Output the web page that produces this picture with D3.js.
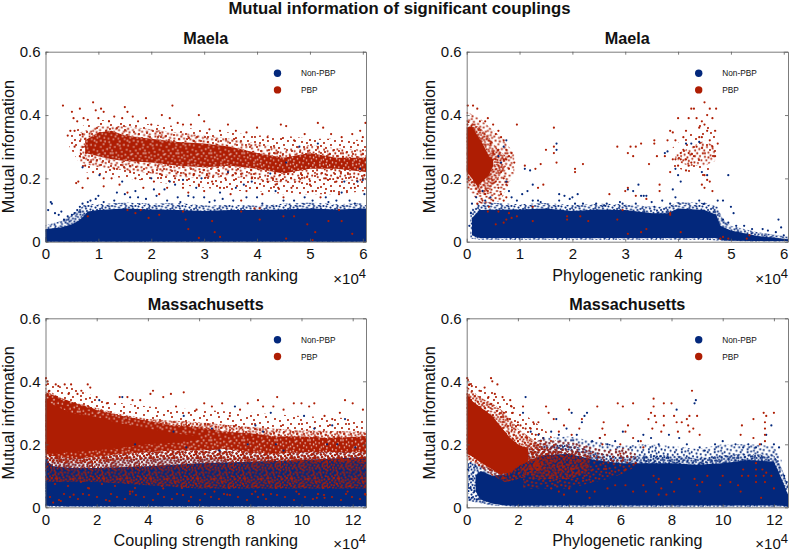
<!DOCTYPE html>
<html><head><meta charset="utf-8">
<script src="https://cdnjs.cloudflare.com/ajax/libs/d3/7.8.5/d3.min.js"></script>
<style>html,body{margin:0;background:#fff}svg{display:block}text{font-family:"Liberation Sans",Arial,sans-serif;fill:#111}</style>
</head><body><svg id="c" width="789" height="551"></svg>
<script>
// All x values are in units of 10^4; y is mutual information.
const yTicks=[0,0.2,0.4,0.6];
const xTicksMaela=[0,1,2,3,4,5,6];
const xTicksMass=[0,2,4,6,8,10,12];
const seriesNames=["Non-PBP","PBP"];

// Envelopes of the clouds too dense to read point by point: [x, lower, upper]
const maelaCouplingBlueCore=[[0,0,.04],[.3,0,.045],[.5,0,.055],[.62,0,.065],[.72,0,.08],[.8,0,.095],[1,0,.1],[1.5,0,.105],[2,0,.102],[2.5,0,.1],[3,0,.097],[3.5,0,.1],[4,0,.1],[4.5,0,.102],[5,0,.105],[5.5,0,.102],[6.06,0,.105]];
const maelaCouplingBlueFringe=[[0,0,.052],[.3,0,.065],[.5,0,.085],[.62,0,.1],[.72,0,.115],[.85,0,.118],[1,0,.118],[1.5,0,.124],[2,0,.12],[2.5,0,.122],[3,0,.114],[3.5,0,.116],[4,0,.114],[4.5,0,.12],[5,0,.124],[5.5,0,.118],[6.06,0,.122]];
const maelaCouplingRedCore=[[.75,.28,.32],[1,.27,.345],[1.25,.26,.35],[1.5,.255,.335],[2,.25,.325],[2.5,.24,.315],[3,.235,.31],[3.5,.24,.3],[4,.23,.28],[4.5,.215,.265],[5,.23,.28],[5.5,.23,.265],[6.06,.22,.265]];
const maelaCouplingRedShoulder=[[.65,.25,.345],[1,.235,.365],[1.5,.225,.365],[2,.215,.355],[2.5,.205,.345],[3,.2,.335],[3.5,.205,.325],[4,.195,.31],[4.5,.185,.295],[5,.195,.305],[5.5,.195,.295],[6.06,.19,.29]];
const maelaCouplingRedFringe=[[.45,.3,.34],[.75,.22,.37],[1,.21,.385],[1.5,.2,.38],[2,.19,.37],[2.5,.18,.365],[3,.17,.35],[3.5,.16,.345],[4,.16,.335],[4.5,.15,.335],[5,.15,.325],[5.5,.15,.325],[6.06,.16,.32]];
const maelaPhyloBlueCore=[[.1,.02,.075],[.25,.012,.1],[1,.012,.102],[1.5,.012,.105],[2,.012,.097],[2.5,.012,.102],[3,.012,.1],[3.5,.012,.09],[3.8,.012,.09],[4,.012,.105],[4.5,.012,.1],[4.72,.012,.085],[4.8,.006,.05],[5,.003,.035],[5.5,.002,.018],[6.08,.002,.008]];
const maelaPhyloBlueFringe=[[.07,.01,.1],[.25,.006,.125],[1,.006,.118],[1.5,.006,.122],[2,.006,.115],[2.5,.006,.12],[3,.006,.118],[3.5,.006,.11],[3.8,.006,.11],[4,.006,.125],[4.5,.006,.122],[4.75,.004,.11],[4.85,.003,.07],[5,.002,.05],[5.5,.001,.03],[6.08,.001,.016]];
const maelaPhyloRedCore=[[0,.22,.36],[.1,.2,.365],[.2,.175,.335],[.3,.19,.31],[.42,.21,.27],[.5,.24,.26]];
const maelaPhyloRedShoulder=[[0,.19,.385],[.25,.15,.36],[.42,.16,.33],[.6,.2,.29],[.75,.24,.27]];
const maelaPhyloRedFringe=[[0,.17,.41],[.25,.12,.39],[.45,.12,.36],[.65,.13,.33],[.9,.22,.28]];
const maelaPhyloRedCluster=[[3.95,.255,.275],[4.2,.24,.295],[4.5,.24,.32],[4.7,.255,.3]];
const maelaPhyloRedClusterHalo=[[3.85,.24,.29],[4.2,.22,.34],[4.5,.2,.39],[4.72,.24,.36]];
const massCouplingBlueCore=[[0,.005,.15],[.3,.004,.13],[1,.003,.125],[2,.003,.125],[4,.003,.13],[6,.003,.14],[8,.003,.145],[10,.003,.15],[12.52,.003,.16]];
const massCouplingBlueFringe=[[0,.002,.17],[.3,.002,.165],[2,.002,.17],[4,.002,.175],[6,.002,.19],[8,.002,.2],[10,.002,.205],[12.52,.002,.205]];
const massCouplingRedCore=[[0,.175,.345],[.3,.17,.325],[1,.175,.3],[2,.18,.285],[3,.19,.265],[4,.2,.25],[5,.205,.235],[6,.215,.225]];
const massCouplingRedDense=[[0,.165,.365],[1,.155,.335],[2,.16,.31],[3,.17,.29],[4,.175,.275],[5,.18,.26],[6,.18,.255],[7,.185,.24],[8,.175,.235],[9,.17,.225],[10,.175,.225],[11,.175,.22],[12.52,.175,.225]];
const massCouplingRedFringe=[[0,.15,.38],[.5,.14,.35],[1,.14,.335],[2,.14,.315],[3,.15,.295],[4,.155,.28],[6,.155,.27],[8,.145,.255],[10,.145,.245],[12.52,.145,.24]];
const massCouplingRedHalo=[[0,.15,.41],[.5,.14,.385],[1,.14,.38],[2,.14,.35],[3,.15,.33],[4,.15,.32],[6,.15,.31],[8,.14,.3],[10,.14,.29],[12.52,.14,.28]];
const massCouplingRedMix=[[0,.08,.16],[2,.08,.17],[4,.07,.18],[6,.06,.18],[8,.06,.18],[10,.06,.17],[12.52,.06,.17]];
const massCouplingRedLow=[[0,.02,.1],[12.52,.02,.1]];
const massPhyloBlueCore=[[.35,.05,.1],[.55,.025,.115],[1,.012,.1],[1.5,.006,.105],[2,.005,.135],[3,.006,.165],[4,.006,.17],[5,.006,.15],[6,.006,.14],[7,.006,.14],[8,.006,.14],[9,.006,.135],[10,.006,.14],[11,.006,.15],[12,.006,.145],[12.2,.006,.11],[12.4,.004,.07],[12.55,.002,.04]];
const massPhyloBlueFringe=[[.05,.02,.14],[.4,.015,.14],[1,.006,.12],[2,.002,.16],[3,.002,.195],[4,.002,.2],[5,.002,.175],[6,.002,.16],[7,.002,.165],[8,.002,.165],[9,.002,.155],[10,.002,.165],[11,.002,.17],[12,.002,.165],[12.3,.002,.125],[12.55,.001,.07]];
const massPhyloBlueHalo=[[2,.1,.18],[3,.12,.22],[4,.12,.225],[5,.12,.21],[6,.12,.195],[7,.12,.2],[8,.12,.195],[9,.12,.185],[10,.12,.2],[11,.12,.2],[12,.12,.195],[12.3,.1,.15]];
const massPhyloRedCore=[[0,.17,.36],[.25,.16,.335],[.5,.145,.32],[1,.12,.29],[1.3,.105,.26],[1.7,.11,.22],[2,.13,.2],[2.4,.145,.185]];
const massPhyloRedFringe=[[0,.15,.385],[.5,.13,.35],[1,.1,.33],[1.5,.08,.3],[2,.09,.25],[2.5,.11,.22],[3,.13,.19]];
const massPhyloRedHalo=[[0,.15,.415],[.5,.13,.38],[1,.1,.37],[1.5,.08,.345],[2,.09,.31],[2.5,.1,.28],[3,.12,.25],[3.5,.15,.21]];
const massPhyloRedMix=[[2.2,.06,.2],[3,.06,.215],[4,.06,.21],[5,.08,.19],[5.5,.09,.18],[6.2,.11,.19],[6.6,.13,.17]];
const massPhyloRedMixCore=[[2.5,.09,.18],[3,.09,.19],[4,.09,.18],[4.8,.11,.17]];

// Individually read points: [x, y]
const maelaCouplingBlue=[[.05,.1],[.1,.125],[.12,.12],[.18,.09],[.25,.085],[.3,.095],[.35,.07],[.42,.08],[.5,.085],[.55,.09],[.6,.1],[.65,.11],[.7,.235],[.7,.12],[.8,.125],[.85,.13],[.95,.135],[1,.145],[1.02,.21],[1.1,.125],[1.3,.13],[1.35,.155],[1.5,.15],[1.45,.19],[1.6,.14],[1.7,.16],[1.75,.14],[1.9,.135],[2,.2],[2.05,.165],[2.1,.145],[2.25,.165],[2.3,.13],[2.35,.19],[2.45,.18],[2.5,.14],[2.55,.125],[2.6,.195],[2.7,.145],[2.8,.14],[2.85,.17],[2.95,.2],[3,.14],[3.1,.125],[3.2,.13],[3.3,.155],[3.35,.135],[3.45,.22],[3.55,.13],[3.6,.17],[3.75,.18],[3.8,.14],[3.9,.19],[4,.14],[4.1,.12],[4.25,.215],[4.35,.16],[4.5,.13],[4.55,.25],[4.7,.13],[4.8,.3],[4.9,.14],[5.05,.13],[5.15,.31],[5.3,.14],[5.35,.125],[5.5,.13],[5.6,.155],[5.65,.19],[5.75,.13],[5.9,.19],[5.95,.23],[6,.195],[6.03,.15],[5.85,.12]];
const maelaCouplingRed=[[.33,.43],[.42,.335],[.47,.35],[.5,.41],[.53,.39],[.55,.35],[.6,.38],[.65,.42],[.7,.34],[.72,.39],[.8,.385],[.9,.44],[.95,.415],[1.05,.42],[1.1,.41],[1,.39],[1.2,.38],[1.3,.395],[1.5,.425],[1.55,.41],[1.45,.39],[1.65,.395],[1.75,.38],[1.9,.39],[2,.37],[2.2,.4],[2.4,.43],[2.35,.39],[2.5,.375],[2.6,.37],[2.75,.37],[2.9,.4],[3,.38],[3.1,.355],[3.3,.35],[3.45,.37],[3.6,.35],[3.8,.345],[4,.36],[4.2,.33],[4.45,.37],[4.55,.365],[4.7,.32],[4.9,.34],[5.15,.375],[5.25,.36],[5.4,.34],[5.6,.33],[5.8,.34],[5.95,.35],[6.05,.375],[6,.33],[.58,.185],[.62,.19],[.7,.17],[.75,.24],[.8,.2],[.9,.22],[.75,.3],[.65,.27],[.55,.3],[1.1,.2],[1.1,.175],[1.25,.2],[1.4,.18],[1.55,.155],[1.3,.23],[1.6,.22],[1.7,.2],[1.85,.17],[1.95,.22],[2.05,.19],[2.15,.15],[2.2,.21],[2.3,.17],[2.45,.2],[2.5,.22],[2.6,.17],[2.7,.155],[2.8,.21],[2.9,.18],[3,.16],[3.05,.21],[3.15,.19],[3.3,.17],[3.4,.2],[3.5,.15],[3.6,.215],[3.7,.13],[3.8,.16],[3.9,.2],[4,.17],[4.1,.15],[4.2,.19],[4.3,.2],[4.35,.18],[4.4,.17],[4.5,.14],[4.65,.17],[4.8,.19],[4.85,.21],[5,.18],[5.05,.16],[5.2,.14],[5.3,.2],[5.4,.16],[5.5,.19],[5.55,.15],[5.7,.16],[5.85,.17],[6,.2],[6.03,.21],[.8,.08],[1.7,.09],[1.95,.075],[2.15,.085],[2.6,.095],[2.65,.07],[2.7,.04],[2.9,.012],[3.15,.065],[3.2,.03],[3.3,.015],[3.7,.095],[4.05,.07],[4.5,.08],[4.55,.01],[4.7,.08],[4.95,.055],[5.05,.005],[5.1,.03],[5.35,.065],[5.55,.1],[5.6,.065],[5.8,.025],[1.55,.1],[1.8,.1],[3.95,.105],[4.05,.105]];
const maelaPhyloBlue=[[.05,.05],[.08,.09],[.1,.12],[.18,.14],[.3,.16],[.35,.13],[.45,.14],[.6,.27],[.65,.25],[.7,.3],[.75,.19],[.75,.32],[.8,.16],[.85,.14],[.95,.13],[1.05,.15],[1.1,.23],[1.25,.18],[1.2,.225],[1.15,.16],[1.25,.13],[1.35,.13],[1.4,.125],[1.7,.29],[1.7,.31],[1.75,.13],[1.75,.15],[1.85,.145],[1.95,.135],[2,.14],[2.05,.12],[2.1,.15],[2.2,.12],[2.45,.12],[2.6,.115],[2.65,.12],[2.9,.125],[2.95,.12],[3.05,.165],[3.15,.16],[3.2,.12],[3.25,.18],[3.3,.145],[3.35,.145],[3.4,.145],[3.5,.125],[3.55,.11],[3.7,.13],[3.75,.28],[3.8,.285],[3.85,.12],[3.9,.165],[3.95,.14],[3.95,.23],[4,.21],[4.05,.19],[4.15,.31],[4.25,.31],[4.4,.315],[4.45,.22],[4.55,.21],[4.4,.13],[4.5,.12],[4.75,.13],[4.85,.13],[4.95,.21],[5,.11],[5.05,.09],[4.85,.07],[4.95,.06],[5.1,.05],[5.25,.05],[5.4,.04],[5.6,.04],[5.7,.035],[5.9,.07],[5.85,.03],[5.95,.045],[6,.02]];
const maelaPhyloRed=[[.02,.43],[.12,.43],[.2,.42],[.25,.38],[.35,.38],[.4,.39],[.5,.37],[.55,.34],[.6,.35],[.6,.29],[.65,.33],[.7,.32],[.7,.26],[.75,.29],[.8,.27],[.85,.28],[.9,.25],[.95,.37],[.45,.31],[.5,.28],[.55,.26],[.6,.24],[.65,.22],[.7,.2],[.75,.18],[.55,.19],[.6,.17],[.65,.15],[.4,.16],[.35,.15],[.3,.13],[.42,.11],[.5,.13],[.4,.095],[.2,.12],[.75,.14],[.7,.13],[.75,.26],[.8,.23],[1.1,.24],[1.3,.23],[1.4,.245],[1.45,.18],[1.35,.17],[1.5,.29],[1.65,.36],[1.65,.28],[1.65,.3],[1.7,.25],[2.05,.23],[2.05,.22],[2.2,.245],[2.85,.3],[3.1,.3],[3.05,.28],[3.15,.27],[3.2,.3],[3.3,.31],[3.45,.245],[3.55,.32],[3.55,.31],[3.6,.27],[3.75,.27],[3.8,.32],[3.85,.35],[3.9,.345],[3.95,.32],[4,.39],[4.05,.26],[4.1,.33],[4.15,.35],[4.2,.39],[4.25,.42],[4.3,.42],[4.35,.39],[4.4,.36],[4.45,.33],[4.5,.44],[4.55,.4],[4.6,.42],[4.65,.39],[4.7,.35],[4.72,.42],[4.75,.31],[4.7,.27],[4.65,.3],[4.6,.32],[4.55,.35],[4.5,.37],[4.45,.38],[4.4,.33],[4.35,.3],[4.3,.27],[4.25,.25],[4.2,.28],[4.15,.26],[4.1,.29],[4.05,.28],[4,.24],[3.95,.26],[3.9,.26],[3.85,.22],[4.15,.225],[4.2,.24],[4.5,.21],[4.45,.18],[4.5,.17],[4.55,.195],[4.65,.16],[4.6,.19],[3.65,.18],[3.65,.16],[3.2,.145],[3,.16],[2.7,.15],[3.05,.17],[3.4,.135],[2.95,.1],[3.85,.09],[3.85,.085],[4.05,.03],[3.3,.03],[3.4,.04],[3.05,.025],[2.85,.07],[2.3,.065],[2.15,.08],[1.9,.08],[1.9,.07],[1.25,.065],[1.25,.11],[.85,.075],[.8,.09],[.75,.07],[.7,.06],[.6,.095],[.55,.055],[.95,.08],[4.8,.01],[4.85,.015],[4.95,.01],[5.3,.01],[5.35,.02]];
const massCouplingBlue=[[2.1,.34],[3,.35],[3.5,.2],[5,.24],[5.4,.29],[5.5,.19],[6.5,.25],[6.8,.18],[7.4,.32],[7.9,.2],[8.2,.26],[8.5,.24],[8.8,.3],[9,.2],[9.3,.18],[10.1,.29],[10.5,.25],[11,.2],[11.2,.26],[11.4,.2],[11.7,.28],[12.1,.19],[.05,.15],[.15,.12],[.1,.1],[.05,.08]];
const massCouplingRed=[[.02,.41],[.08,.4],[.15,.37],[.4,.39],[.5,.385],[.75,.39],[1,.39],[.9,.36],[1.25,.36],[1.4,.37],[1.65,.39],[1.75,.38],[2,.35],[2.4,.33],[2.9,.35],[3.2,.35],[3.4,.34],[3.7,.34],[4.1,.36],[4.2,.37],[4.6,.35],[4.9,.36],[5.1,.32],[5.4,.365],[5.6,.3],[5.9,.31],[6.2,.33],[6.5,.32],[6.9,.33],[7.2,.29],[7.6,.31],[7.9,.33],[8.3,.34],[8.5,.32],[8.9,.32],[9.05,.35],[9.3,.31],[9.7,.33],[10,.33],[10.3,.32],[10.5,.33],[10.9,.29],[11.2,.28],[11.5,.3],[11.7,.34],[12,.33],[12.4,.31],[.3,.015],[.6,.02],[1.1,.04],[2.5,.02],[3.3,.05],[5.6,.02],[7.1,.04],[8.5,.04],[10.9,.03],[3.4,.05],[6.6,.05],[8.2,.05],[9.8,.05],[11.8,.05],[12.5,.04],[1.7,.06],[4.6,.06],[10.6,.03]];
const massPhyloBlue=[[.05,.12],[.1,.1],[.15,.14],[.15,.06],[.2,.09],[.2,.03],[.25,.11],[.3,.05],[.35,.13],[.4,.025],[.4,.07],[.45,.1],[.5,.04],[2.3,.35],[2.2,.3],[2.5,.24],[2.8,.23],[3,.22],[3.3,.24],[3.5,.28],[3.6,.23],[3.9,.25],[4.1,.3],[4.3,.23],[4.5,.27],[4.6,.29],[4.7,.3],[4.9,.21],[5.2,.22],[5.5,.2],[5.8,.21],[6.1,.24],[6.4,.19],[6.7,.21],[6.9,.23],[7.2,.22],[7.5,.2],[7.9,.23],[8.2,.31],[8.3,.22],[8.6,.2],[8.9,.33],[8.95,.34],[9.1,.19],[9.3,.18],[9.7,.2],[10,.21],[10.5,.2],[10.8,.19],[11,.2],[11.3,.19],[11.5,.2],[11.7,.23],[11.9,.26],[12,.2],[12.2,.19],[12.4,.1],[12.5,.08]];
const massPhyloRed=[[.02,.41],[.1,.39],[.2,.385],[.5,.37],[.7,.38],[.95,.41],[1,.4],[1.2,.39],[1.1,.36],[.85,.35],[1.4,.35],[1.7,.34],[1.75,.32],[1.45,.3],[1.8,.3],[1.6,.28],[2.2,.32],[2,.27],[2.1,.26],[2.3,.25],[2.5,.25],[2.6,.27],[2.8,.27],[2.7,.23],[3.1,.32],[3.2,.3],[3.4,.28],[3.6,.24],[3.8,.26],[4,.31],[4.1,.23],[4.4,.25],[4.5,.28],[5.1,.32],[5.3,.25],[5.35,.27],[5.2,.22],[5.4,.23],[5.3,.2],[5.9,.33],[6.1,.32],[6.3,.26],[6.2,.24],[6,.2],[6.5,.33],[6.5,.22],[6.8,.21],[6.9,.19],[7.1,.28],[7.2,.3],[7.3,.345],[7.3,.32],[7.35,.29],[7.4,.27],[7.25,.25],[7.7,.29],[7.7,.26],[7.7,.33],[7.6,.24],[8,.33],[8.1,.29],[8.2,.27],[8.25,.24],[8.4,.27],[8.6,.28],[8.65,.26],[8.7,.29],[8.7,.24],[8.8,.37],[9,.29],[8.85,.25],[9.1,.23],[10.7,.23],[10.75,.26],[11.2,.28],[11.2,.22],[11.6,.3],[11.65,.27],[11.65,.25],[11.65,.23],[11.65,.21],[11.7,.29],[12,.3],[11.45,.2],[6,.17],[6.1,.15],[6.2,.12],[6.6,.14],[5.8,.07],[6.2,.07],[6.5,.05],[6.9,.07],[7,.05],[7.3,.1],[7.4,.08],[7.5,.09],[7.6,.06],[7.8,.04],[8,.08],[8.1,.05],[8.3,.09],[7.5,.04],[8.9,.09],[9,.07],[9.1,.05],[9.2,.08],[9.4,.1],[9.9,.07],[10,.1],[10.3,.08],[10.6,.07],[10.7,.05],[10.75,.1],[10.8,.12],[11,.1],[11.3,.14],[11.3,.12],[11.3,.1],[11.3,.08],[11.55,.12],[11.6,.1],[11.65,.08],[11.7,.11],[11.9,.1],[12,.06],[11.5,.03],[4.8,.03],[3.8,.04],[3.3,.06],[3.6,.05],[4,.06],[4.3,.05],[4.7,.05],[5,.05],[5.5,.06]];

const blue="#03287c",red="#ae1d03",frame="#5a5a5a";
const svg=d3.select("#c");
const defs=svg.append("defs");
// Stipple used to shade the envelope layers so they read as dense point clouds.
const stipple=[[3,5],[17,2],[31,7],[42,3],[9,14],[25,13],[38,16],[2,22],[15,24],[29,22],[44,25],[8,33],[21,35],[34,31],[41,37],[12,8],[23,5],[36,2],[6,10],[19,10],[33,12],[45,11],[13,18],[28,17],[42,20],[5,27],[20,19],[36,24],[10,28],[26,28],[39,30],[3,37],[15,39],[30,38],[45,33],[7,1],[27,1],[40,9],[1,15],[17,14],[30,3],[22,24],[33,18],[46,16],[11,22],[24,31],[37,35],[18,29],[43,29],[6,18],[14,34],[28,34],[34,27],[1,31],[20,14],[39,23],[9,38],[25,20],[44,39],[16,6]];
const stippleKinds={sparse:[1,30],full:[1,60],mid:[.7,60],tight:[.5,60]};
[["b",blue],["r",red]].forEach(([k,c])=>{
 Object.entries(stippleKinds).forEach(([name,[s,n]])=>{
  const pat=defs.append("pattern").attr("id",k+name).attr("patternUnits","userSpaceOnUse").attr("width",47*s).attr("height",41*s);
  pat.selectAll("circle").data(stipple.slice(0,n)).join("circle").attr("cx",d=>d[0]*s).attr("cy",d=>d[1]*s).attr("r",1.05).attr("fill",c);
 });
 const pat=defs.append("pattern").attr("id",k+"dense").attr("patternUnits","userSpaceOnUse").attr("width",47*.7).attr("height",41*.7);
 pat.append("rect").attr("width",47).attr("height",41).attr("fill",c);
 pat.selectAll("circle").data(stipple).join("circle").attr("cx",d=>d[0]*.7).attr("cy",d=>d[1]*.7).attr("r",.8).attr("fill","#fff").attr("fill-opacity",.85);
});
svg.append("text").attr("x",399.5).attr("y",14).attr("text-anchor","middle").attr("font-size",16.7).attr("font-weight","bold").text("Mutual information of significant couplings");

const panels=[
 {t:"Maela",xl:"Coupling strength ranking",L:45.5,R:366,T:51.7,B:241.7,xmax:6.06,xt:xTicksMaela,
  layers:[[maelaCouplingBlueFringe,"btight"],[maelaCouplingBlueCore,blue],[maelaCouplingRedFringe,"rfull"],[maelaCouplingRedShoulder,"rmid"],[maelaCouplingRedCore,"rdense"]],bp:maelaCouplingBlue,rp:maelaCouplingRed},
 {t:"Maela",xl:"Phylogenetic ranking",L:466.7,R:788,T:51.7,B:241.7,xmax:6.08,xt:xTicksMaela,
  layers:[[maelaPhyloBlueFringe,"btight"],[maelaPhyloBlueCore,blue],[maelaPhyloRedClusterHalo,"rsparse"],[maelaPhyloRedCluster,"rmid"],[maelaPhyloRedFringe,"rmid"],[maelaPhyloRedShoulder,"rtight"],[maelaPhyloRedCore,red]],bp:maelaPhyloBlue,rp:maelaPhyloRed},
 {t:"Massachusetts",xl:"Coupling strength ranking",L:45.5,R:366,T:318.3,B:507.3,xmax:12.52,xt:xTicksMass,
  layers:[[massCouplingBlueFringe,"btight"],[massCouplingBlueCore,blue],[massCouplingRedLow,"rsparse"],[massCouplingRedMix,"rtight"],[massCouplingRedHalo,"rfull"],[massCouplingRedFringe,"rtight"],[massCouplingRedDense,"rdense"],[massCouplingRedCore,red]],bp:massCouplingBlue,rp:massCouplingRed},
 {t:"Massachusetts",xl:"Phylogenetic ranking",L:466.7,R:788,T:318.3,B:507.3,xmax:12.55,xt:xTicksMass,
  layers:[[massPhyloBlueHalo,"bmid"],[massPhyloBlueFringe,"btight"],[massPhyloBlueCore,blue],[massPhyloRedMix,"rmid"],[massPhyloRedMixCore,"rtight"],[massPhyloRedHalo,"rfull"],[massPhyloRedFringe,"rtight"],[massPhyloRedCore,red]],bp:massPhyloBlue,rp:massPhyloRed}
];
panels.forEach(p=>{
 const x=d3.scaleLinear().domain([0,p.xmax]).range([p.L,p.R]);
 const y=d3.scaleLinear().domain([0,.6]).range([p.B,p.T]);
 const g=svg.append("g");
 const area=d3.area().x(d=>x(d[0])).y0(d=>y(d[1])).y1(d=>y(d[2]));
 p.layers.forEach(([band,fill])=>{
  g.append("path").attr("d",area(band)).attr("fill",fill.startsWith("#")?fill:`url(#${fill})`);
 });
 g.selectAll("circle.b").data(p.bp).join("circle").attr("class","b").attr("cx",d=>x(d[0])).attr("cy",d=>y(d[1])).attr("r",1.1).attr("fill",blue);
 g.selectAll("circle.r").data(p.rp).join("circle").attr("class","r").attr("cx",d=>x(d[0])).attr("cy",d=>y(d[1])).attr("r",1.1).attr("fill",red);
 const sty=a=>{a.selectAll("path.domain").attr("stroke",frame).attr("stroke-width",.8);a.selectAll("line").attr("stroke",frame).attr("stroke-width",.8);a.selectAll("text").attr("fill","#111").attr("font-size",15).attr("font-family",'"Liberation Sans",Arial,sans-serif');};
 const fmt=d=>String(d);
 svg.append("g").attr("transform",`translate(0,${p.B})`).call(d3.axisBottom(x).tickValues(p.xt).tickFormat(fmt).tickSizeInner(-3).tickSizeOuter(0).tickPadding(7)).call(sty);
 svg.append("g").attr("transform",`translate(0,${p.T})`).call(d3.axisTop(x).tickValues(p.xt).tickFormat("").tickSizeInner(-3).tickSizeOuter(0)).call(sty);
 svg.append("g").attr("transform",`translate(${p.L},0)`).call(d3.axisLeft(y).tickValues(yTicks).tickFormat(fmt).tickSizeInner(-3).tickSizeOuter(0).tickPadding(5)).call(sty);
 svg.append("g").attr("transform",`translate(${p.R},0)`).call(d3.axisRight(y).tickValues(yTicks).tickFormat("").tickSizeInner(-3).tickSizeOuter(0)).call(sty);
 const cx=(p.L+p.R)/2;
 svg.append("text").attr("x",cx).attr("y",p.T-8).attr("text-anchor","middle").attr("font-size",16.2).attr("font-weight","bold").text(p.t);
 svg.append("text").attr("x",cx).attr("y",p.B+39).attr("text-anchor","middle").attr("font-size",16.2).text(p.xl);
 svg.append("text").attr("transform",`translate(${p.L-32},${(p.T+p.B)/2}) rotate(-90)`).attr("text-anchor","middle").attr("font-size",16.2).text("Mutual information");
 const ex=svg.append("text").attr("x",p.R).attr("y",p.B+42).attr("text-anchor","end").attr("font-size",15);
 ex.append("tspan").text("×10");
 ex.append("tspan").attr("dy",-6).attr("font-size",13).text("4");
 seriesNames.forEach((n,i)=>{
  const ly=p.T+21.5+i*16.7;
  svg.append("circle").attr("cx",p.L+232).attr("cy",ly).attr("r",3.7).attr("fill",i?red:blue);
  svg.append("text").attr("x",p.L+255.5).attr("y",ly+3).attr("font-size",8.3).text(n);
 });
});
</script></body></html>
